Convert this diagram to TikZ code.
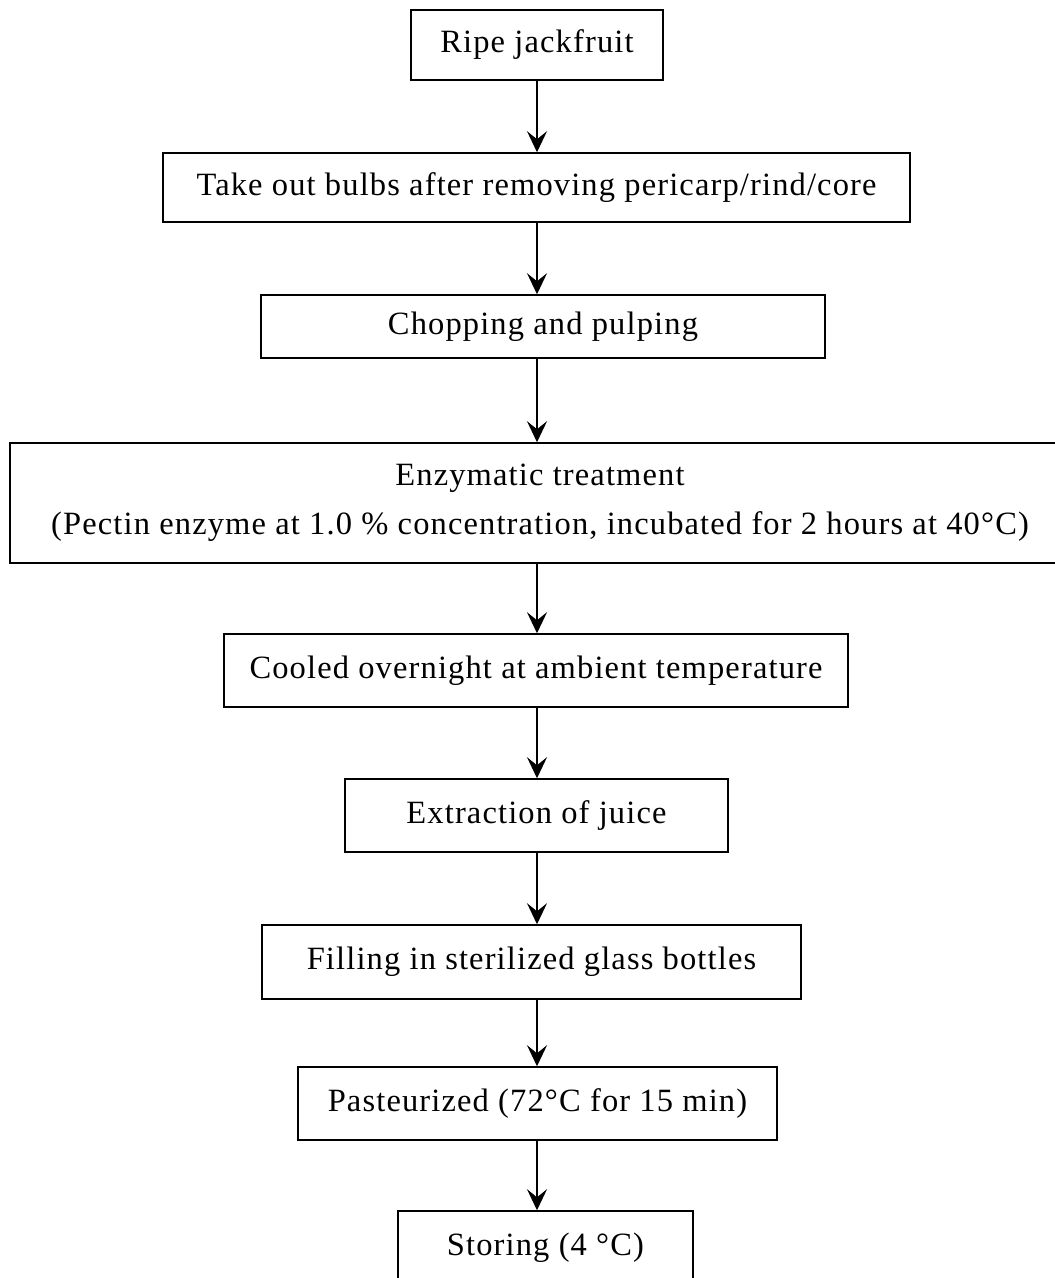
\documentclass[tikz,border=0pt]{standalone}
\usepackage{fontspec}
\setmainfont{Liberation Serif}[LetterSpace=3.5]
\usetikzlibrary{arrows.meta}
\begin{document}
\begin{tikzpicture}[x=1pt,y=-1pt,
  box/.style={draw, line width=1.5pt, inner sep=0pt, align=center,
    font=\fontsize{32.5}{49}\selectfont},
  arr/.style={line width=1.6pt, -{Stealth[length=21pt,width=20pt,inset=8pt]}}]
\useasboundingbox (0,0) rectangle (1055,1278);
\coordinate (ax) at (537,0);
\node[box, minimum width=252pt, minimum height=70pt] (b1) at (537,45) {Ripe jackfruit};
\node[box, minimum width=747pt, minimum height=69pt] (b2) at (536.5,187.5) {Take out bulbs after removing pericarp/rind/core};
\node[box, minimum width=564pt, minimum height=63pt] (b3) at (543,326.5) {Chopping and pulping};
\node[box, minimum width=1060pt, minimum height=120pt] (b4) at (540,503) {\raisebox{-3pt}{Enzymatic treatment}\\\raisebox{-3pt}{(Pectin enzyme at 1.0 \% concentration, incubated for 2 hours at 40°C)}};
\node[box, minimum width=624pt, minimum height=73pt] (b5) at (536,670.5) {Cooled overnight at ambient temperature};
\node[box, minimum width=383pt, minimum height=73pt] (b6) at (536.5,815.5) {Extraction of juice};
\node[box, minimum width=539pt, minimum height=74pt] (b7) at (531.5,962) {Filling in sterilized glass bottles};
\node[box, minimum width=479pt, minimum height=73pt] (b8) at (537.5,1103.5) {Pasteurized (72°C for 15 min)};
\node[box, minimum width=295pt, minimum height=73pt] (b9) at (545.5,1247.5) {Storing (4 °C)};
\foreach \a/\b in {b1/b2,b2/b3,b3/b4,b4/b5,b5/b6,b6/b7,b7/b8,b8/b9}
  \draw[arr] (\a.south -| ax) -- (\b.north -| ax);
\end{tikzpicture}
\end{document}
